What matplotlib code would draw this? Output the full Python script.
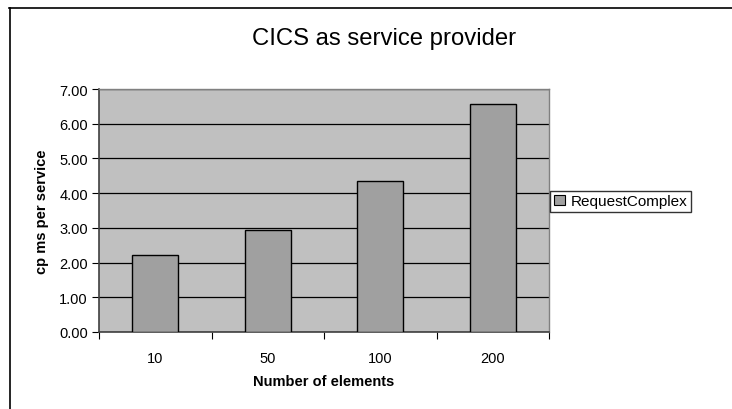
import matplotlib
matplotlib.use("Agg")
import matplotlib.pyplot as plt
from matplotlib.lines import Line2D
from matplotlib.patches import Patch

plt.rcParams['font.family'] = ['Liberation Sans', 'DejaVu Sans']

categories = ["10", "50", "100", "200"]
values = [2.22, 2.95, 4.35, 6.58]
series_name = "RequestComplex"
yticks = [0, 1, 2, 3, 4, 5, 6, 7]

W, H = 732, 410
fig = plt.figure(figsize=(W / 100, H / 100), dpi=100)
fig.patch.set_facecolor("white")

# outer chart frame (top and left visible)
fig.add_artist(Line2D([9 / W, 1.0], [1 - 8.5 / H, 1 - 8.5 / H], color="black", lw=1.2, transform=fig.transFigure))
fig.add_artist(Line2D([9.5 / W, 9.5 / W], [0, 1 - 8.5 / H], color="black", lw=1.2, transform=fig.transFigure))

ax = fig.add_axes([99 / W, 1 - 333 / H, (549 - 99) / W, (333 - 90) / H])
ax.set_facecolor("#C0C0C0")

x = list(range(len(categories)))
ax.bar(x, values, width=0.405, color="#A0A0A0", edgecolor="black", linewidth=1.0, zorder=3)

ax.set_xlim(-0.5, len(categories) - 0.5)
ax.set_ylim(0, 7)
ax.set_yticks(yticks)
ax.set_yticklabels([f"{v:.2f}" for v in yticks], fontsize=10.5)
ax.yaxis.grid(True, color="black", linewidth=0.9, zorder=1)
ax.set_axisbelow(True)

# category boundary ticks, labels at centers
ax.set_xticks([i - 0.5 for i in range(len(categories) + 1)])
ax.set_xticklabels([])
ax.set_xticks(x, minor=True)
ax.set_xticklabels(categories, minor=True, fontsize=10.5)
ax.tick_params(axis="x", which="major", length=5, direction="out", color="black")
ax.tick_params(axis="x", which="minor", length=0, pad=14)
ax.tick_params(axis="y", length=5, direction="out", color="black", pad=3)

for s in ["top", "right"]:
    ax.spines[s].set_color("#808080")
    ax.spines[s].set_linewidth(1.0)
for s in ["left", "bottom"]:
    ax.spines[s].set_color("#404040")
    ax.spines[s].set_linewidth(1.2)

ax.set_xlabel("Number of elements", fontsize=10.5, fontweight="bold", labelpad=6)
ax.set_ylabel("cp ms per service", fontsize=10.5, fontweight="bold", labelpad=7)

fig.text(384 / W, 1 - 45 / H, "CICS as service provider", fontsize=17.2,
         ha="center", va="baseline")

handle = Patch(facecolor="#A0A0A0", edgecolor="black", linewidth=0.8)
leg = fig.legend([handle], [series_name], loc="upper left",
                 bbox_to_anchor=(550 / W, 1 - 191.5 / H), fontsize=11,
                 frameon=True, fancybox=False, edgecolor="black",
                 handlelength=0.7, handleheight=0.7, handletextpad=0.4,
                 borderpad=0.25, borderaxespad=0)
leg.get_frame().set_linewidth(1.0)

fig.savefig("out.png", dpi=100, facecolor="white")
